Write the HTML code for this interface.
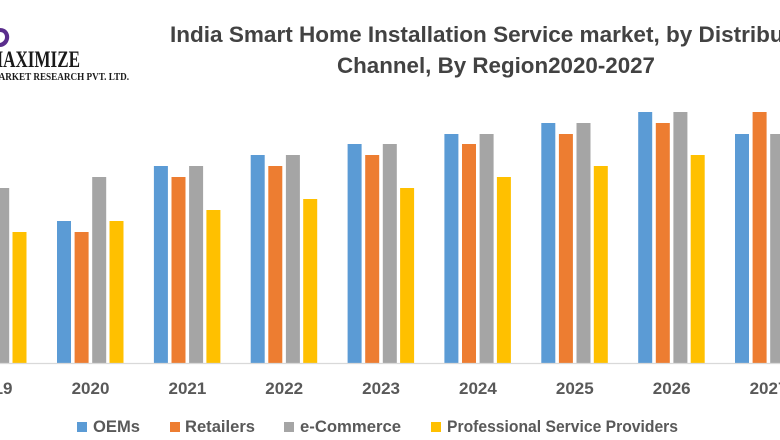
<!DOCTYPE html>
<html>
<head>
<meta charset="utf-8">
<style>
  html, body { margin: 0; padding: 0; background: #ffffff; }
  body { width: 780px; height: 440px; overflow: hidden; }
  svg { display: block; }
</style>
</head>
<body>
<svg width="780" height="440" viewBox="0 0 780 440" xmlns="http://www.w3.org/2000/svg" style="font-family:'Liberation Sans','DejaVu Sans',sans-serif;">
  <rect x="0" y="0" width="780" height="440" fill="#ffffff"/>

  <!-- Logo -->
  <path d="M0,28 C7,28 10,34 9,39 C8,44 4,47 0,47 L0,43 C3,42 5,40 5,37 C5,34 3,32 0,32 Z" fill="#5a2d8c"/>
  <text x="-13" y="67" style="font-family:'Liberation Serif',serif;font-weight:bold;font-size:23px;" fill="#1a1a1a" textLength="93" lengthAdjust="spacingAndGlyphs">MAXIMIZE</text>
  <text x="-10" y="80" style="font-family:'Liberation Serif',serif;font-weight:bold;font-size:11px;" fill="#1a1a1a" textLength="139" lengthAdjust="spacingAndGlyphs">MARKET RESEARCH PVT. LTD.</text>

  <!-- Title -->
  <text x="170" y="42" font-weight="bold" font-size="22" fill="#424242" textLength="655" lengthAdjust="spacingAndGlyphs">India Smart Home Installation  Service market, by Distribution</text>
  <text x="337" y="73" font-weight="bold" font-size="22" fill="#424242" textLength="318" lengthAdjust="spacingAndGlyphs">Channel, By Region2020-2027</text>

  <!-- Bars -->
  <g id="bars">
    <!-- 2019 (partially visible) -->
    <rect x="-40" y="199" width="14" height="164" fill="#5B9BD5"/>
    <rect x="-22.4" y="210" width="14" height="153" fill="#ED7D31"/>
    <rect x="-4.8" y="188" width="14" height="175" fill="#A5A5A5"/>
    <rect x="12.5" y="232" width="14" height="131" fill="#FFC000"/>

    <!-- 2020 -->
    <rect x="57" y="221" width="14" height="142" fill="#5B9BD5"/>
    <rect x="74.6" y="232" width="14" height="131" fill="#ED7D31"/>
    <rect x="92.2" y="177" width="14" height="186" fill="#A5A5A5"/>
    <rect x="109.5" y="221" width="14" height="142" fill="#FFC000"/>

    <!-- 2021 -->
    <rect x="153.9" y="166" width="14" height="197" fill="#5B9BD5"/>
    <rect x="171.5" y="177" width="14" height="186" fill="#ED7D31"/>
    <rect x="189.1" y="166" width="14" height="197" fill="#A5A5A5"/>
    <rect x="206.4" y="210" width="14" height="153" fill="#FFC000"/>

    <!-- 2022 -->
    <rect x="250.7" y="155" width="14" height="208" fill="#5B9BD5"/>
    <rect x="268.3" y="166" width="14" height="197" fill="#ED7D31"/>
    <rect x="285.9" y="155" width="14" height="208" fill="#A5A5A5"/>
    <rect x="303.2" y="199" width="14" height="164" fill="#FFC000"/>

    <!-- 2023 -->
    <rect x="347.6" y="144" width="14" height="219" fill="#5B9BD5"/>
    <rect x="365.2" y="155" width="14" height="208" fill="#ED7D31"/>
    <rect x="382.8" y="144" width="14" height="219" fill="#A5A5A5"/>
    <rect x="400.1" y="188" width="14" height="175" fill="#FFC000"/>

    <!-- 2024 -->
    <rect x="444.4" y="134" width="14" height="229" fill="#5B9BD5"/>
    <rect x="462" y="144" width="14" height="219" fill="#ED7D31"/>
    <rect x="479.6" y="134" width="14" height="229" fill="#A5A5A5"/>
    <rect x="496.9" y="177" width="14" height="186" fill="#FFC000"/>

    <!-- 2025 -->
    <rect x="541.3" y="123" width="14" height="240" fill="#5B9BD5"/>
    <rect x="558.9" y="134" width="14" height="229" fill="#ED7D31"/>
    <rect x="576.5" y="123" width="14" height="240" fill="#A5A5A5"/>
    <rect x="593.8" y="166" width="14" height="197" fill="#FFC000"/>

    <!-- 2026 -->
    <rect x="638.2" y="112" width="14" height="251" fill="#5B9BD5"/>
    <rect x="655.8" y="123" width="14" height="240" fill="#ED7D31"/>
    <rect x="673.4" y="112" width="14" height="251" fill="#A5A5A5"/>
    <rect x="690.7" y="155" width="14" height="208" fill="#FFC000"/>

    <!-- 2027 -->
    <rect x="735" y="134" width="14" height="229" fill="#5B9BD5"/>
    <rect x="752.6" y="112" width="14" height="251" fill="#ED7D31"/>
    <rect x="770.2" y="134" width="14" height="229" fill="#A5A5A5"/>
    <rect x="787.5" y="155" width="14" height="208" fill="#FFC000"/>
  </g>

  <!-- Axis baseline -->
  <line x1="0" y1="363.5" x2="780" y2="363.5" stroke="#d9d9d9" stroke-width="1.2"/>

  <!-- X labels -->
  <g font-weight="bold" font-size="17" fill="#595959" text-anchor="middle">
    <text x="-6.4" y="394">2019</text>
    <text x="90.5" y="394">2020</text>
    <text x="187.4" y="394">2021</text>
    <text x="284.2" y="394">2022</text>
    <text x="381.1" y="394">2023</text>
    <text x="477.9" y="394">2024</text>
    <text x="574.8" y="394">2025</text>
    <text x="671.7" y="394">2026</text>
    <text x="768.5" y="394">2027</text>
  </g>

  <!-- Legend -->
  <g font-weight="bold" font-size="16.5" fill="#595959">
    <rect x="77" y="422" width="10" height="10" fill="#5B9BD5"/>
    <text x="93" y="432" textLength="47" lengthAdjust="spacingAndGlyphs">OEMs</text>
    <rect x="170" y="422" width="10" height="10" fill="#ED7D31"/>
    <text x="185" y="432" textLength="70" lengthAdjust="spacingAndGlyphs">Retailers</text>
    <rect x="284" y="422" width="10" height="10" fill="#A5A5A5"/>
    <text x="300" y="432" textLength="101" lengthAdjust="spacingAndGlyphs">e-Commerce</text>
    <rect x="431" y="422" width="10" height="10" fill="#FFC000"/>
    <text x="447" y="432" textLength="231" lengthAdjust="spacingAndGlyphs">Professional Service Providers</text>
  </g>
</svg>
</body>
</html>
